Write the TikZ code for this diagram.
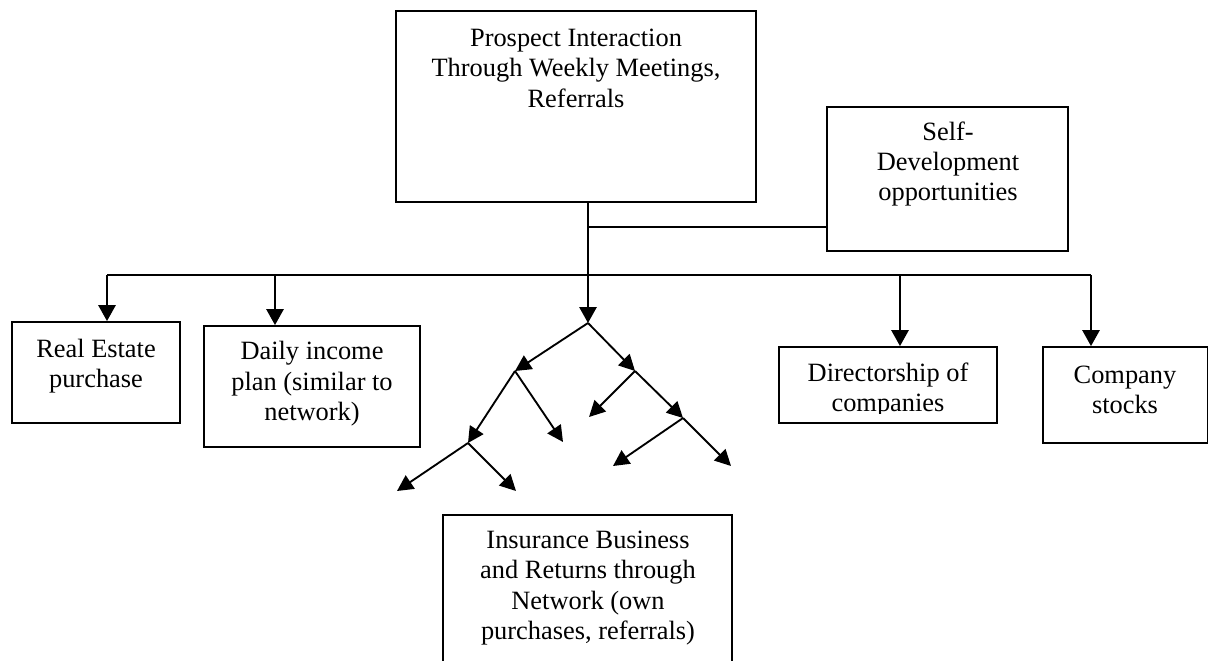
\documentclass[tikz,border=0pt]{standalone}
\usepackage{fontspec}
\setmainfont{Liberation Serif}
\usetikzlibrary{arrows.meta,fit}
\tikzset{
  box/.style={draw, line width=1.4pt, inner sep=0pt},
  txt/.style={align=center, inner sep=0pt, font=\fontsize{19.8}{22.8}\selectfont},
  wire/.style={line width=1.4pt},
  arr/.style={line width=1.4pt, -{Triangle[length=12pt,width=13pt]}},
  tarr/.style={line width=1.4pt, -{Triangle[length=12pt,width=12pt]}}
}
\begin{document}
\begin{tikzpicture}[x=0.75pt,y=-0.75pt]
\useasboundingbox (0,0) rectangle (1209,660);
% boxes
\node[box, fit={(396,11) (756,202)}] (top) {};
\node[box, fit={(827,107) (1068,251)}] (self) {};
\node[box, fit={(12,322) (180,423)}] (re) {};
\node[box, fit={(204,326) (420,447)}] (daily) {};
\node[box, fit={(779,347) (997,423)}] (dir) {};
\node[box, fit={(1043,347) (1207.5,443)}] (stock) {};
\node[box, fit={(443,515) (732,664)}] (ins) {};
% texts
\node[txt] (topt) at (576,68) {Prospect Interaction\\Through Weekly Meetings,\\Referrals};
\node[txt] (selft) at (948,164) {Self-\\Development\\opportunities};
\node[txt] (ret) at (96,366) {Real Estate\\purchase};
\node[txt] (dailyt) at (312,384) {Daily income\\plan (similar to\\network)};
\begin{scope}
\clip (782,350) rectangle (994,413);
\node[txt] (dirt) at (888,390) {Directorship of\\companies};
\end{scope}
\node[txt] (stockt) at (1125,390) {Company\\stocks};
\node[txt] (inst) at (588,588) {Insurance Business\\and Returns through\\Network (own\\purchases, referrals)};
% bus
\coordinate (s1) at (588,202);
\coordinate (s2) at (588,227);
\coordinate (b0) at (588,275);
\coordinate (bL) at (107,275);
\coordinate (bD) at (275,275);
\coordinate (bR) at (900,275);
\coordinate (bS) at (1091,275);
\draw[wire] (top.south -| s1) -- (b0);
\draw[wire] (s2) -- (self.west |- s2);
\draw[wire] (bL) -- (bS);
\draw[arr] (bL) -- (re.north -| bL);
\draw[arr] (bD) -- (daily.north -| bD);
\draw[arr] (bR) -- (dir.north -| bR);
\draw[arr] (bS) -- (stock.north -| bS);
% tree
\coordinate (t0) at (588,323);
\coordinate (tL) at (515,371);
\coordinate (tR) at (635,371);
\coordinate (tLL) at (468,443);
\coordinate (tLR) at (563,442);
\coordinate (tRL) at (589,417);
\coordinate (tRR) at (683,418);
\coordinate (tRRL) at (613,466);
\coordinate (tRRR) at (731,466);
\coordinate (tLLL) at (397,491);
\coordinate (tLLR) at (516,491);
\draw[arr] (b0) -- (t0);
\draw[tarr] (t0) -- (tL);
\draw[tarr] (t0) -- (tR);
\draw[tarr] (tL) -- (tLL);
\draw[tarr] (tL) -- (tLR);
\draw[tarr] (tR) -- (tRL);
\draw[tarr] (tR) -- (tRR);
\draw[tarr] (tRR) -- (tRRL);
\draw[tarr] (tRR) -- (tRRR);
\draw[tarr] (tLL) -- (tLLL);
\draw[tarr] (tLL) -- (tLLR);
\end{tikzpicture}
\end{document}
